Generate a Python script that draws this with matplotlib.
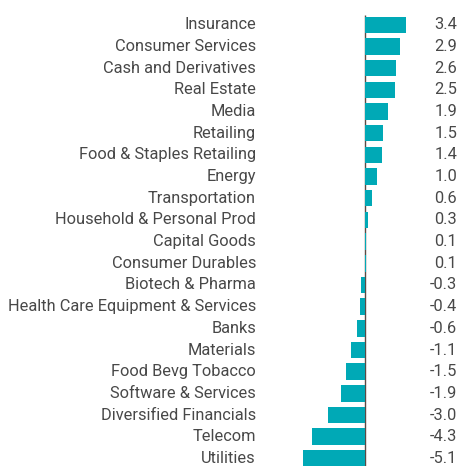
import matplotlib
matplotlib.use("Agg")
import matplotlib.pyplot as plt
import matplotlib.transforms as mtransforms

sectors = ["Insurance", "Consumer Services", "Cash and Derivatives", "Real Estate",
           "Media", "Retailing", "Food & Staples Retailing", "Energy", "Transportation",
           "Household & Personal Prod", "Capital Goods", "Consumer Durables",
           "Biotech & Pharma", "Health Care Equipment & Services", "Banks", "Materials",
           "Food Bevg Tobacco", "Software & Services", "Diversified Financials",
           "Telecom", "Utilities"]
values = [3.4, 2.9, 2.6, 2.5, 1.9, 1.5, 1.4, 1.0, 0.6, 0.3, 0.1, 0.1,
          -0.3, -0.4, -0.6, -1.1, -1.5, -1.9, -3.0, -4.3, -5.1]

plt.rcParams['font.family'] = ['Roboto', 'DejaVu Sans']
bar_color = '#00a9b6'
text_color = '#484848'

W, H = 459, 466
fig = plt.figure(figsize=(W / 100, H / 100), dpi=100)
ax = fig.add_axes([296 / W, 0, (412 - 296) / W, 1])

y = list(range(len(sectors)))
ax.vlines(0, -0.45, len(sectors) - 0.55, color='#5a4a44', lw=1.0, zorder=1)
ax.barh(y, values, height=0.76, color=bar_color, zorder=2)

ax.set_xlim(-5.64, 3.91)
ax.set_ylim(20.35, -1.145)
ax.axis('off')

tr = mtransforms.blended_transform_factory(fig.transFigure, ax.transData)
for i, (s, v) in enumerate(zip(sectors, values)):
    ax.text(256 / W, i, s, transform=tr, ha='right', va='center',
            fontsize=11.8, color=text_color)
    ax.text(457 / W, i, "%.1f" % v, transform=tr, ha='right', va='center',
            fontsize=11.8, color=text_color)

fig.savefig("out.png", dpi=100)
